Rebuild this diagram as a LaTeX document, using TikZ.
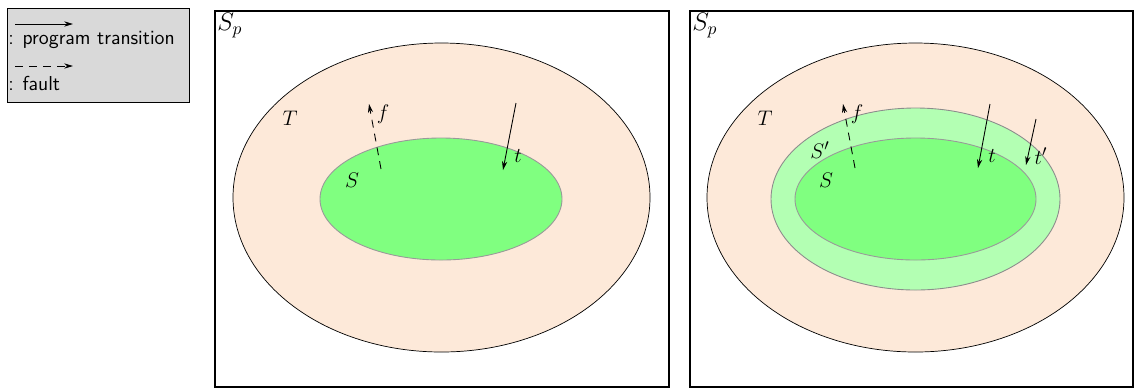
\documentclass[tikz,border=0pt]{standalone}
\usetikzlibrary{arrows.meta}
\definecolor{peach}{HTML}{FDE9D9}
\definecolor{sgreen}{HTML}{80FF80}
\definecolor{lgreen}{HTML}{B3FFB3}
\definecolor{legendgray}{HTML}{D9D9D9}
\begin{document}
\begin{tikzpicture}[x=0.02cm,y=-0.02cm,
  frame/.style={draw=black,line width=1.2pt},
  outerell/.style={draw=black,fill=peach,line width=0.4pt},
  midell/.style={draw=black!45,fill=lgreen,line width=0.5pt},
  innerell/.style={draw=black!40,fill=sgreen,line width=0.5pt},
  trans/.style={-{Stealth[length=5pt,width=3pt]},line width=0.5pt},
  fault/.style={trans,dash pattern=on 4.5pt off 3.5pt},
  lbl/.style={inner sep=0pt,font=\fontsize{13}{15}\selectfont},
  leg/.style={inner sep=0pt,anchor=west,font=\fontsize{11.5}{13}\sffamily}]
\useasboundingbox (0,0) rectangle (1135,390);
% legend
\node[draw=black,fill=legendgray,line width=0.4pt,minimum width=182*0.02cm,minimum height=94*0.02cm,anchor=north west,inner sep=0pt] (legend) at (7,8) {};
\coordinate (la1) at (15,24); \coordinate (la2) at (73,24);
\draw[trans] (la1) -- (la2);
\node[leg] (lt1) at (8,40) {: program transition};
\coordinate (lb1) at (15,66); \coordinate (lb2) at (73,66);
\draw[fault] (lb1) -- (lb2);
\node[leg] (lt2) at (8,83) {: fault};
% left panel
\node[frame,minimum width=454*0.02cm,minimum height=376*0.02cm,anchor=north west,inner sep=0pt] (fr1) at (214,10) {};
\node[lbl,anchor=north west,font=\fontsize{14}{16}\selectfont] (sp1) at (217,13) {$S_p$};
\draw[outerell] (441.5,197.5) ellipse [x radius=208.5,y radius=154.5];
\draw[innerell] (441,199) ellipse [x radius=121,y radius=61];
\node[lbl] (T1) at (290,118) {$T$};
\node[lbl] (S1) at (352,180) {$S$};
\coordinate (f1a) at (381,169); \coordinate (f1b) at (369,104);
\draw[fault] (f1a) -- (f1b);
\node[lbl] (fl1) at (383,114) {$f$};
\coordinate (t1a) at (516,103); \coordinate (t1b) at (503,170);
\draw[trans] (t1a) -- (t1b);
\node[lbl] (tl1) at (518,156) {$t$};
% right panel
\node[frame,minimum width=443*0.02cm,minimum height=376*0.02cm,anchor=north west,inner sep=0pt] (fr2) at (689,10) {};
\node[lbl,anchor=north west,font=\fontsize{14}{16}\selectfont] (sp2) at (692,13) {$S_p$};
\draw[outerell] (915.5,197.5) ellipse [x radius=208.5,y radius=154.5];
\draw[midell] (915.5,199) ellipse [x radius=144.5,y radius=91];
\draw[innerell] (915.5,199) ellipse [x radius=120.5,y radius=61];
\node[lbl] (T2) at (765,118) {$T$};
\node[lbl] (Sq2) at (820,150) {$S'$};
\node[lbl] (S2) at (826,180) {$S$};
\coordinate (f2a) at (855,168); \coordinate (f2b) at (843,104);
\draw[fault] (f2a) -- (f2b);
\node[lbl] (fl2) at (857,114) {$f$};
\coordinate (t2a) at (990,104); \coordinate (t2b) at (978,168);
\draw[trans] (t2a) -- (t2b);
\node[lbl] (tl2) at (992,156) {$t$};
\coordinate (t3a) at (1036,119); \coordinate (t3b) at (1026,165);
\draw[trans] (t3a) -- (t3b);
\node[lbl] (tl3) at (1041,156) {$t'$};
\end{tikzpicture}
\end{document}
